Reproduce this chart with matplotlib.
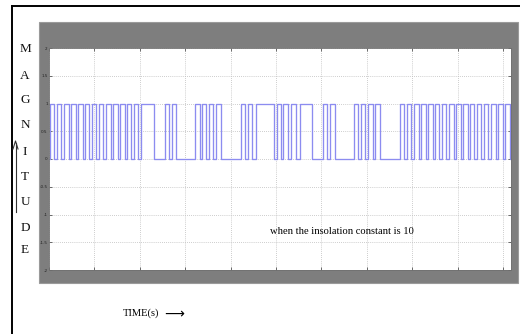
import matplotlib
matplotlib.use("Agg")
import matplotlib.pyplot as plt
from matplotlib.patches import Rectangle
from matplotlib.lines import Line2D

# ---- data (time in grid divisions) ----
rise = [0.022, 0.176, 0.330, 0.485, 0.639, 0.793, 0.947, 1.101, 1.256, 1.410,
        1.564, 1.718, 1.872, 2.026, 2.555, 2.709, 3.216, 3.370, 3.524, 3.678,
        4.229, 4.383, 4.559, 5.011, 5.165, 5.341, 5.529, 6.035, 6.189, 6.718,
        6.872, 7.026, 7.181, 7.731, 7.885, 8.040, 8.194, 8.348, 8.502, 8.656,
        8.811, 8.965, 9.119, 9.273, 9.427, 9.581, 9.736, 9.890, 10.044]
fall = [0.121, 0.275, 0.430, 0.584, 0.738, 0.892, 1.046, 1.200, 1.355, 1.509,
        1.663, 1.817, 1.971, 2.313, 2.643, 2.808, 3.315, 3.469, 3.623, 3.778,
        4.328, 4.482, 4.956, 5.110, 5.264, 5.441, 5.793, 6.134, 6.289, 6.817,
        6.971, 7.126, 7.280, 7.830, 7.984, 8.139, 8.293, 8.447, 8.601, 8.755,
        8.910, 9.064, 9.218, 9.372, 9.526, 9.680, 9.835, 9.989, 10.143]
high_level = 1
low_level = 0
x_end = 10.176
ytick_vals = [-2, -1.5, -1, -0.5, 0, 0.5, 1, 1.5, 2]
ytick_labels = ["-2", "-1.5", "-1", "-0.5", "0", "0.5", "1", "1.5", "2"]
xtick_vals = [0, 1, 2, 3, 4, 5, 6, 7, 8, 9, 10]
ylabel_letters = ["M", "A", "G", "N", "I", "T", "U", "D", "E"]
annotation = "when the insolation constant is 10"
xlabel_text = "TIME(s)"

# build the step waveform from the edges
xs = [0.0]
ys = [low_level]
for r, f in zip(rise, fall):
    xs += [r, r, f, f]
    ys += [low_level, high_level, high_level, low_level]
xs.append(x_end)
ys.append(low_level)

W, H = 520, 334
fig = plt.figure(figsize=(W / 100, H / 100), dpi=100)
fig.patch.set_facecolor("white")

def fx(px):
    return px / W

def fy(py):
    return (H - py) / H

# outer page border lines
fig.add_artist(Line2D([fx(12), 1.0], [fy(6), fy(6)], color="black", lw=1.4,
                      transform=fig.transFigure))
fig.add_artist(Line2D([fx(12), fx(12)], [fy(6), 0.0], color="black", lw=1.4,
                      transform=fig.transFigure))

# scope gray frame
fig.add_artist(Rectangle((fx(39), fy(283)), fx(518) - fx(39), fy(22) - fy(283),
                         facecolor="#7e7e7e", edgecolor="#9a9a9a", lw=0.8,
                         transform=fig.transFigure, zorder=0))

ax = fig.add_axes([fx(49), fy(270), fx(511) - fx(49), fy(48) - fy(270)])
ax.set_facecolor("white")
ax.plot(xs, ys, color="#8c8cf0", lw=0.95)
ax.set_xlim(0, x_end)
ax.set_ylim(-2, 2)
ax.set_yticks(ytick_vals)
ax.set_yticklabels(ytick_labels)
ax.set_xticks(xtick_vals)
ax.set_xticklabels([])
ax.grid(True, color="#bdbdbd", lw=0.6, ls=(0, (1, 1.5)))
ax.tick_params(axis="both", direction="in", length=2.5, width=0.6,
               color="#555555", top=True, right=True, labelsize=3,
               labelcolor="#222222", pad=1)
for s in ax.spines.values():
    s.set_color("#707070")
    s.set_linewidth(0.6)

ax.text(0.478, 0.174, annotation, transform=ax.transAxes,
        fontsize=7.6, family="Liberation Serif", color="black",
        ha="left", va="center")

# vertical magnitude label letters
ys_letters = [49, 76, 100, 125, 152, 177, 202, 228, 250]
for letter, py in zip(ylabel_letters, ys_letters):
    fig.text(fx(25), fy(py), letter, fontsize=9.5, family="Liberation Serif",
             ha="center", va="center", color="#111111")

# upward arrow near the left border
fig.add_artist(Line2D([fx(15.5), fx(15.5)], [fy(212), fy(143)], color="#333333",
                      lw=0.8, transform=fig.transFigure))
fig.add_artist(Line2D([fx(13), fx(15.5), fx(18)], [fy(149), fy(141), fy(149)],
                      color="#333333", lw=0.8, transform=fig.transFigure))

fig.text(fx(123), fy(313), xlabel_text, fontsize=7.6, family="Liberation Serif",
         ha="left", va="center", color="black")
fig.text(fx(164), fy(314), "\u27f6", fontsize=10, family=["DejaVu Sans"],
         ha="left", va="center", color="black")

fig.savefig("out.png", dpi=100, facecolor="white")
